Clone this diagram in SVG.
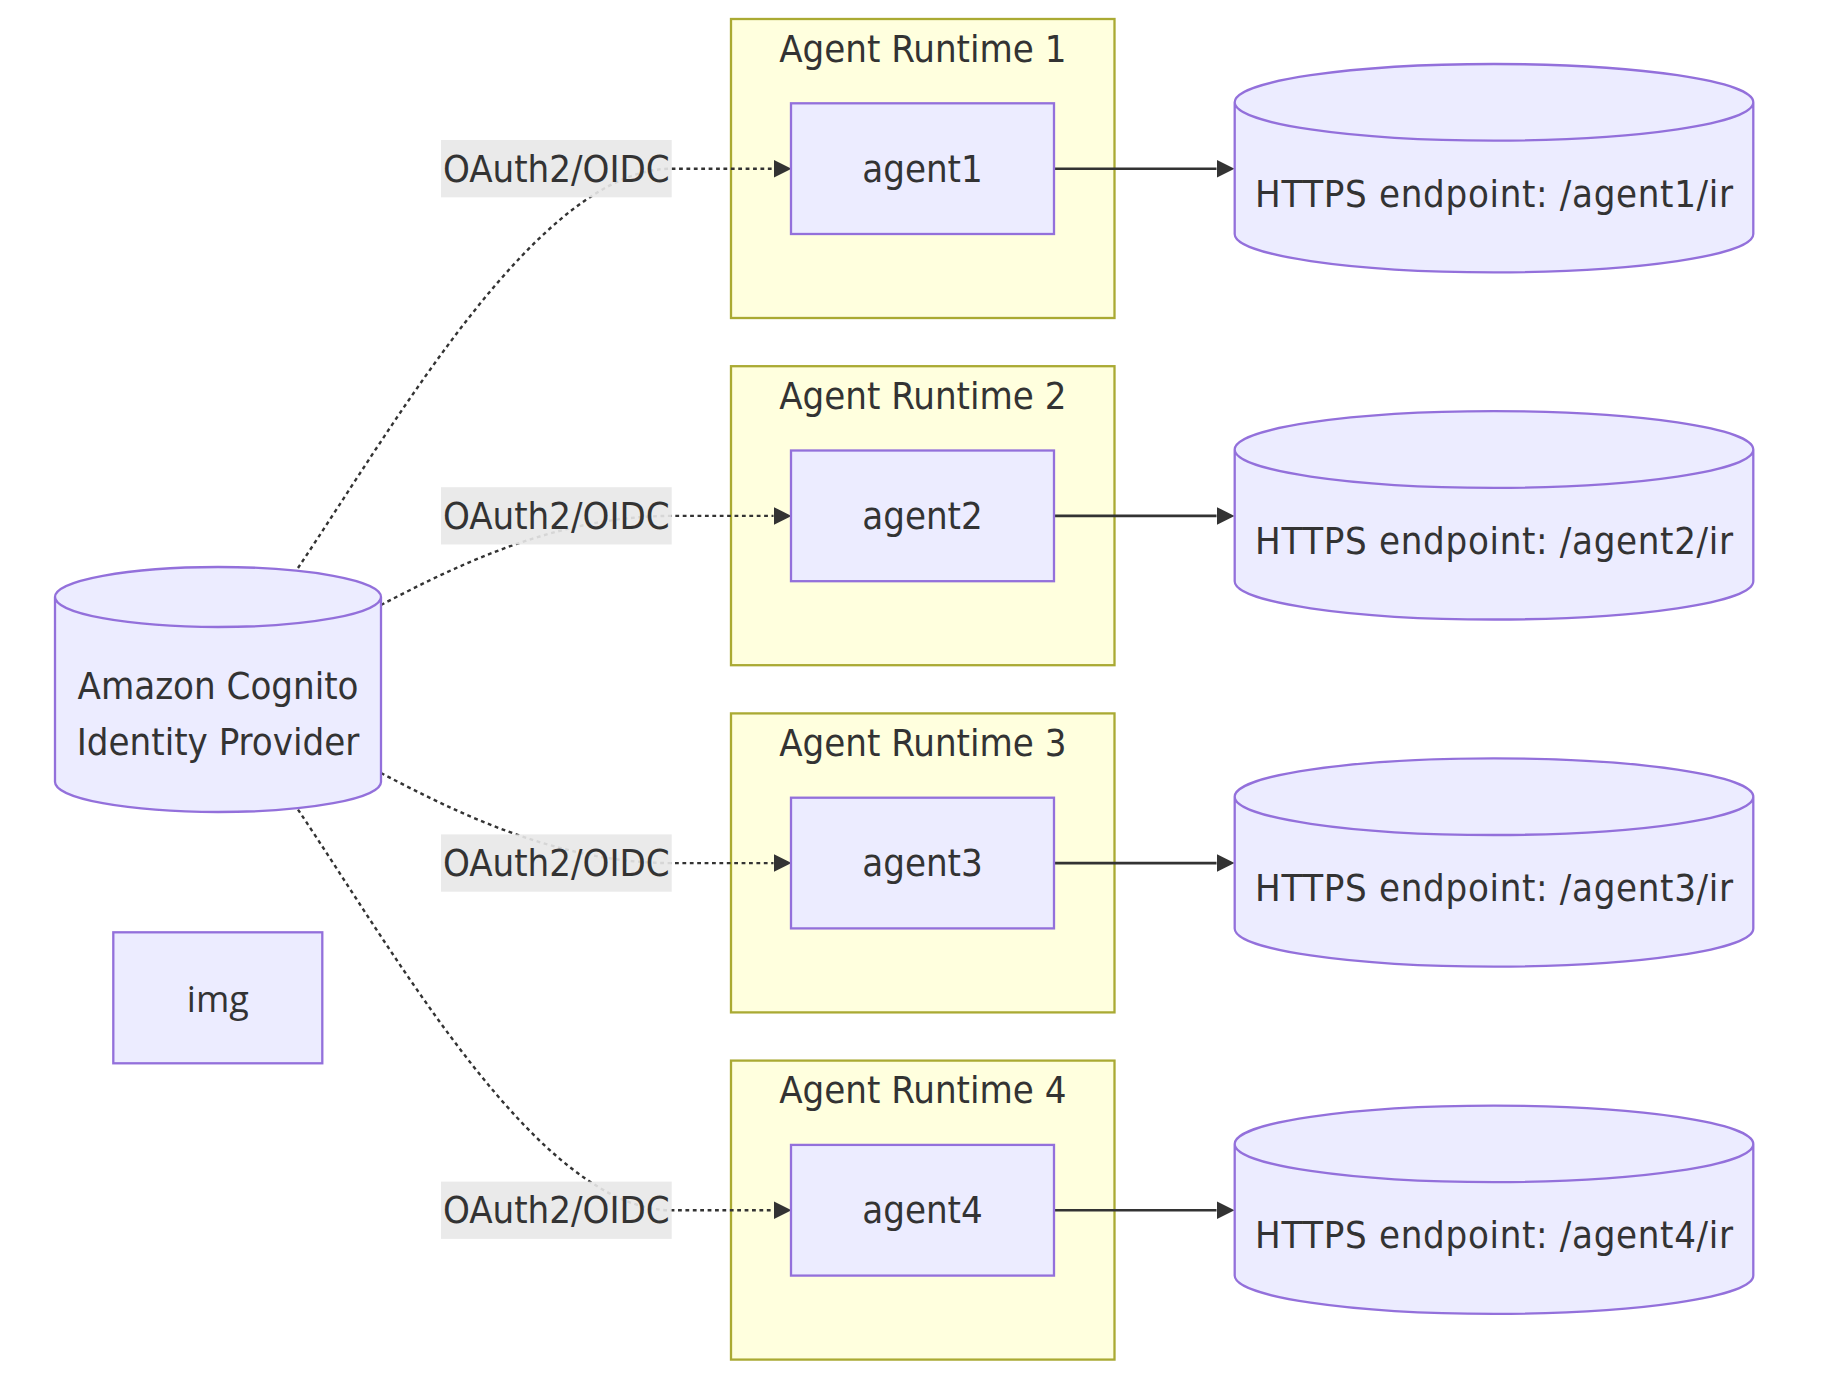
<svg xmlns="http://www.w3.org/2000/svg" width="1828" height="1382" viewBox="0 0 1828 1382">
<style>
text{font-family:'DejaVu Sans Condensed','DejaVu Sans',sans-serif;font-stretch:condensed;font-size:38px;fill:#333;text-anchor:middle}
.cluster{fill:#ffffde;stroke:#aaaa33;stroke-width:2.3}
.node{fill:#ECECFF;stroke:#9370DB;stroke-width:2.3}
.dotted{fill:none;stroke:#333;stroke-width:2.4;stroke-dasharray:3.8 3.6}
.solid{fill:none;stroke:#333;stroke-width:2.6}
.lbl{fill:#e8e8e8;fill-opacity:0.9}
.img{font-family:'Open Sans','Noto Sans',sans-serif;font-stretch:normal;font-size:36px}
</style>
<defs>
<marker id="arrow" viewBox="0 0 10 10" refX="0" refY="5" markerWidth="18" markerHeight="19" markerUnits="userSpaceOnUse" orient="auto">
<path d="M0,0 L10,5 L0,10 z" fill="#333"/>
</marker>
</defs>
<rect width="1828" height="1382" fill="#ffffff"/>
<g id="clusters">
<g id="runtime1"><rect class="cluster" x="731" y="19" width="383.5" height="299"/><text x="922.8" y="61.7">Agent Runtime 1</text></g>
<g id="runtime2"><rect class="cluster" x="731" y="366.2" width="383.5" height="299"/><text x="922.8" y="408.9">Agent Runtime 2</text></g>
<g id="runtime3"><rect class="cluster" x="731" y="713.4" width="383.5" height="299"/><text x="922.8" y="756.1">Agent Runtime 3</text></g>
<g id="runtime4"><rect class="cluster" x="731" y="1060.6" width="383.5" height="299"/><text x="922.8" y="1103.3">Agent Runtime 4</text></g>
</g>
<g id="edges">
<path class="dotted" d="M298,568 C398,419 540,168.7 671.7,168.7 L773.5,168.7" marker-end="url(#arrow)"/>
<path class="dotted" d="M381,605 C461,563 560,515.9 671.7,515.9 L773.5,515.9" marker-end="url(#arrow)"/>
<path class="dotted" d="M381,773 C461,815 560,863.1 671.7,863.1 L773.5,863.1" marker-end="url(#arrow)"/>
<path class="dotted" d="M298,809.6 C398,958.6 540,1210.3 671.7,1210.3 L773.5,1210.3" marker-end="url(#arrow)"/>
<path class="solid" d="M1054,168.7 L1216.5,168.7" marker-end="url(#arrow)"/>
<path class="solid" d="M1054,515.9 L1216.5,515.9" marker-end="url(#arrow)"/>
<path class="solid" d="M1054,863.1 L1216.5,863.1" marker-end="url(#arrow)"/>
<path class="solid" d="M1054,1210.3 L1216.5,1210.3" marker-end="url(#arrow)"/>
</g>
<g id="edge-labels">
<g><rect class="lbl" x="441" y="140" width="230.7" height="57.3"/><text x="556.3" y="181.7">OAuth2/OIDC</text></g>
<g><rect class="lbl" x="441" y="487.2" width="230.7" height="57.3"/><text x="556.3" y="528.9">OAuth2/OIDC</text></g>
<g><rect class="lbl" x="441" y="834.4" width="230.7" height="57.3"/><text x="556.3" y="876.1">OAuth2/OIDC</text></g>
<g><rect class="lbl" x="441" y="1181.6" width="230.7" height="57.3"/><text x="556.3" y="1223.3">OAuth2/OIDC</text></g>
</g>
<g id="nodes">
<g id="cognito"><path class="node" d="M55,597 a163,30 0 0,0 326,0 a163,30 0 0,0 -326,0 l0,185 a163,30 0 0,0 326,0 l0,-185"/><text x="218" y="699.3">Amazon Cognito</text><text x="218" y="755">Identity Provider</text></g>
<g id="img"><rect class="node" x="113.3" y="932.3" width="209" height="131"/><text class="img" x="217.8" y="1011.7">img</text></g>
<g id="agent1"><rect class="node" x="791" y="103.3" width="263" height="130.7"/><text x="922.5" y="181.7">agent1</text></g>
<g id="agent2"><rect class="node" x="791" y="450.5" width="263" height="130.7"/><text x="922.5" y="528.9">agent2</text></g>
<g id="agent3"><rect class="node" x="791" y="797.7" width="263" height="130.7"/><text x="922.5" y="876.1">agent3</text></g>
<g id="agent4"><rect class="node" x="791" y="1144.9" width="263" height="130.7"/><text x="922.5" y="1223.3">agent4</text></g>
<g id="ep1"><path class="node" d="M1234.7,102.3 a259.3,38.3 0 0,0 518.6,0 a259.3,38.3 0 0,0 -518.6,0 l0,131.7 a259.3,38.3 0 0,0 518.6,0 l0,-131.7"/><text x="1494" y="206.7" textLength="478" lengthAdjust="spacing">HTTPS endpoint: /agent1/ir</text></g>
<g id="ep2"><path class="node" d="M1234.7,449.5 a259.3,38.3 0 0,0 518.6,0 a259.3,38.3 0 0,0 -518.6,0 l0,131.7 a259.3,38.3 0 0,0 518.6,0 l0,-131.7"/><text x="1494" y="553.9" textLength="478" lengthAdjust="spacing">HTTPS endpoint: /agent2/ir</text></g>
<g id="ep3"><path class="node" d="M1234.7,796.7 a259.3,38.3 0 0,0 518.6,0 a259.3,38.3 0 0,0 -518.6,0 l0,131.7 a259.3,38.3 0 0,0 518.6,0 l0,-131.7"/><text x="1494" y="901.1" textLength="478" lengthAdjust="spacing">HTTPS endpoint: /agent3/ir</text></g>
<g id="ep4"><path class="node" d="M1234.7,1143.9 a259.3,38.3 0 0,0 518.6,0 a259.3,38.3 0 0,0 -518.6,0 l0,131.7 a259.3,38.3 0 0,0 518.6,0 l0,-131.7"/><text x="1494" y="1248.3" textLength="478" lengthAdjust="spacing">HTTPS endpoint: /agent4/ir</text></g>
</g>
</svg>
